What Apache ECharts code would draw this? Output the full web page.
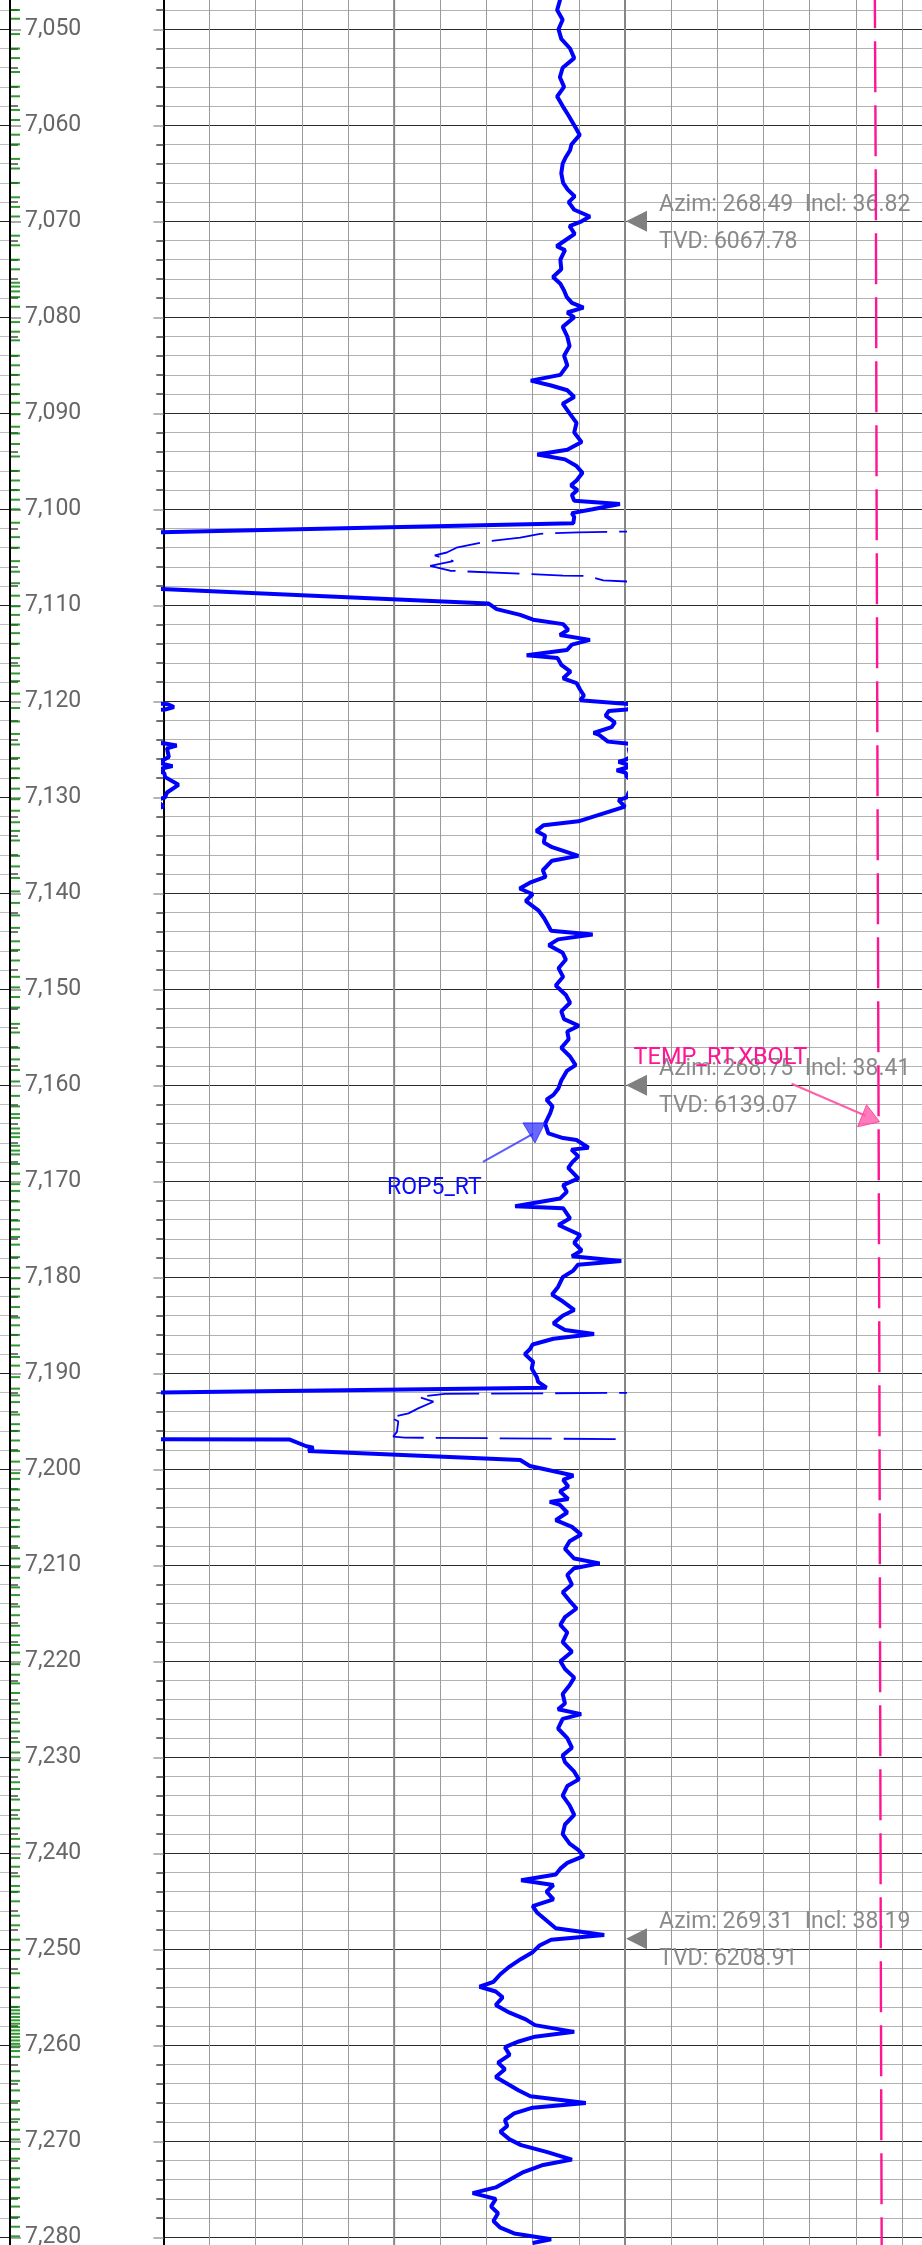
<!DOCTYPE html>
<html><head><meta charset="utf-8">
<script src="https://cdn.jsdelivr.net/npm/echarts@6/dist/echarts.min.js"></script>
<style>html,body{margin:0;padding:0;background:#fff;}#c{width:922px;height:2245px;}</style>
</head><body><div id="c"></div>
<script>
// ---------- data ----------
const depthMin = 7040, depthMax = 7290;

const ropDepth = [7046.0,7047.0,7048.0,7049.0,7050.0,7051.0,7052.0,7053.0,7054.0,7055.0,7056.0,7057.0,7058.0,7059.0,7060.0,7061.0,7062.0,7062.6,7063.3,7064.0,7065.0,7066.0,7066.7,7067.4,7068.0,7068.8,7069.5,7070.0,7070.5,7071.3,7072.0,7072.6,7073.0,7074.0,7075.0,7075.8,7076.5,7077.2,7077.9,7078.5,7079.0,7079.5,7080.0,7081.0,7082.0,7083.0,7084.0,7085.0,7086.0,7086.6,7087.1,7087.6,7088.3,7089.0,7090.0,7091.0,7092.0,7093.0,7093.8,7094.3,7094.8,7095.5,7096.2,7097.0,7097.5,7098.0,7098.5,7099.1,7099.45,7100.0,7100.4,7100.8,7101.45,7102.5,7108.1,7109.8,7110.4,7111.0,7111.5,7111.96,7112.55,7113.1,7113.6,7114.1,7114.66,7115.2,7115.5,7116.2,7116.9,7117.6,7118.1,7118.8,7119.4,7119.9,7120.3,7120.6,7120.85,7121.0,7121.5,7122.2,7122.7,7123.3,7123.5,7124.2,7124.4,7124.6,7124.9,7125.8,7126.1,7126.3,7126.55,7126.75,7126.95,7127.2,7127.45,7127.9,7128.7,7129.5,7130.0,7130.3,7130.98,7132.5,7132.9,7133.5,7134.0,7134.7,7135.2,7136.1,7136.6,7137.6,7138.3,7138.9,7139.5,7140.1,7140.8,7141.8,7142.6,7143.9,7144.3,7144.8,7145.4,7146.2,7146.9,7147.8,7148.7,7149.6,7150.6,7151.4,7152.3,7153.1,7153.8,7154.4,7155.2,7156.1,7157.0,7157.9,7158.5,7159.5,7160.3,7161.0,7161.5,7162.2,7162.9,7164.0,7165.0,7165.5,7165.7,7166.5,7166.7,7167.4,7168.0,7168.6,7169.7,7170.4,7171.1,7171.8,7172.6,7172.8,7173.85,7174.55,7175.6,7176.4,7177.2,7177.8,7178.3,7178.7,7179.3,7180.0,7181.0,7181.8,7182.5,7183.4,7184.0,7184.8,7185.5,7185.9,7186.4,7187.0,7187.5,7188.0,7188.8,7189.5,7190.4,7190.9,7191.5,7192.05,7196.85,7196.9,7197.6,7197.75,7198.1,7199.03,7199.65,7200.65,7201.1,7201.8,7202.3,7203.1,7203.4,7203.7,7204.5,7205.3,7206.0,7206.8,7207.5,7208.3,7209.3,7209.8,7210.3,7211.0,7212.0,7212.8,7213.7,7214.5,7215.4,7216.2,7217.0,7218.0,7219.0,7220.0,7220.8,7221.7,7222.5,7223.4,7224.4,7225.0,7225.5,7226.0,7227.0,7228.0,7229.0,7229.8,7230.5,7231.5,7232.3,7233.0,7234.0,7235.0,7236.0,7237.0,7238.0,7239.0,7239.7,7240.3,7241.0,7241.6,7242.2,7242.8,7243.3,7244.0,7244.8,7245.5,7246.2,7247.0,7247.8,7248.5,7249.0,7249.6,7250.3,7251.0,7251.8,7252.6,7253.4,7253.9,7254.4,7255.0,7255.8,7256.6,7257.3,7257.9,7258.6,7259.1,7259.6,7260.2,7261.0,7261.8,7262.5,7263.3,7264.0,7264.7,7265.3,7266.0,7266.5,7267.1,7267.8,7268.4,7269.0,7269.8,7270.4,7271.1,7271.9,7272.5,7273.2,7274.0,7274.8,7275.4,7276.0,7276.8,7277.5,7278.3,7279.0,7279.6,7280.2,7280.6];
const ropValue = [86.2,85.9,85.3,86.5,85.6,86.2,88.1,89.0,86.5,85.9,86.8,85.3,86.5,87.8,89.0,90.2,88.4,88.1,87.2,86.5,86.2,86.6,87.6,89.1,87.8,89.0,92.4,90.6,88.0,89.1,87.0,85.2,87.0,86.0,86.2,84.4,86.0,86.8,87.4,88.5,91.0,87.5,89.0,86.5,87.5,88.0,86.8,87.5,86.0,79.6,84.0,87.5,89.0,86.5,88.0,89.5,89.0,90.6,87.5,81.0,87.0,89.5,90.8,89.5,88.3,89.7,88.5,89.0,98.9,93.0,88.5,89.0,88.8,-10,-10,70.4,72.2,77.3,80.1,86.6,87.7,85.9,92.4,88.5,87.4,78.7,85.4,86.2,88.2,86.6,89.5,90.3,91.1,90.3,101.0,102.3,100.4,96.5,95.8,97.8,97.1,93.2,94.4,96.3,100.4,102.9,100.8,101.2,100.1,98.6,100.2,102.0,100.1,98.2,100.2,100.4,103.3,100.8,100.4,98.6,100.0,89.9,82.4,80.8,82.7,82.4,84.2,89.9,84.2,82.2,82.8,79.4,77.2,80.0,78.5,81.3,82.5,84.0,93.0,85.5,83.5,86.5,87.2,85.6,86.6,85.0,87.2,88.1,86.2,86.8,90.0,87.5,87.8,86.2,88.1,89.3,87.4,86.2,85.6,84.5,83.0,84.3,83.8,82.7,83.4,86.6,89.5,92.1,88.4,89.9,88.6,87.7,89.9,86.6,87.4,85.9,76.2,86.6,88.1,85.6,90.3,89.0,90.6,88.5,99.2,89.8,88.8,86.5,85.5,84.2,86.5,89.0,86.5,84.5,87.0,93.3,84.5,80.0,79.4,78.3,80.1,79.8,80.9,81.2,83.0,-10,-10,27.4,31.0,32.5,31.4,77.3,79.4,88.8,86.6,87.7,85.9,87.7,83.7,85.9,87.5,85.0,88.5,90.5,88.0,87.0,89.0,94.5,89.0,87.5,88.5,86.5,88.0,89.5,87.0,86.0,87.5,86.5,88.5,86.0,87.0,89.0,88.0,86.5,87.0,85.5,90.5,86.5,85.5,87.5,88.5,86.5,87.0,89.0,90.0,87.5,86.5,88.0,89.0,87.0,86.5,88.0,90.0,91.0,87.5,86.0,85.0,77.5,84.5,83.0,84.5,80.0,81.0,83.0,85.0,95.5,84.0,81.5,80.0,77.5,75.0,73.0,71.5,68.5,72.0,73.5,72.0,75.0,78.5,80.5,89.0,80.5,77.0,74.0,75.0,72.5,74.0,72.0,74.5,77.0,79.5,91.5,80.0,76.0,74.0,74.5,73.0,75.0,77.5,83.0,88.5,82.0,78.0,75.0,72.0,67.0,72.0,71.0,72.5,71.5,73.0,76.0,84.0,80.0];

// backup (thin dashed) curve where ROP5_RT is off-scale
const backupDepthA = [7102.25,7102.4,7102.55,7102.95,7103.35,7104.0,7104.5,7104.8,7105.4,7105.9,7106.4,7106.9,7106.95,7107.4,7107.75];
const backupValueA = [110,89.9,81.6,77.3,70.0,63.5,61.4,58.8,62.8,57.8,62.1,86.6,91.7,95.3,110];
const backupDepthB = [7192.0,7192.15,7192.44,7192.96,7193.65,7194.17,7194.6,7195.0,7196.1,7196.6,7196.7,7196.9];
const backupValueB = [110,61.0,55.2,58.5,55.2,53.1,49.1,50.9,50.6,49.8,52.3,110];

const tempDepth = [7040,7070,7100,7130,7160,7190,7220,7250,7290];
const tempValue = [108.1,108.7,109.0,109.4,109.8,110.2,110.5,110.8,111.3];

const greenTickDepth = [7047.99,7048.9,7050.5,7052.0,7053.0,7054.45,7055.98,7056.98,7058.4,7059.45,7060.98,7061.98,7063.5,7064.5,7066.0,7067.5,7068.5,7069.5,7071.5,7072.5,7074.0,7075.0,7076.4,7076.8,7077.3,7077.9,7078.9,7080.5,7081.5,7082.4,7084.0,7085.0,7086.0,7087.0,7088.0,7088.9,7090.1,7091.4,7092.1,7093.2,7094.5,7096.0,7097.0,7098.0,7099.0,7100.0,7101.4,7102.9,7104.0,7105.4,7106.5,7107.7,7109.0,7110.1,7111.0,7112.0,7112.9,7114.0,7115.5,7116.3,7117.1,7117.9,7119.2,7120.7,7122.1,7123.4,7124.5,7125.9,7127.0,7128.0,7129.1,7130.2,7131.4,7132.6,7133.5,7134.5,7136.1,7137.2,7138.4,7139.8,7141.0,7142.3,7143.6,7145.0,7145.9,7147.0,7148.7,7149.8,7150.8,7151.9,7153.6,7154.5,7156.1,7157.3,7158.4,7159.6,7161.1,7162.2,7163.0,7163.4,7164.5,7165.0,7165.4,7166.3,7166.8,7167.2,7168.2,7169.2,7170.3,7171.0,7172.1,7173.0,7174.1,7175.0,7175.8,7176.6,7177.9,7179.0,7180.1,7181.2,7182.0,7183.1,7184.2,7185.0,7186.0,7187.1,7188.3,7189.2,7190.4,7191.6,7192.3,7193.0,7194.3,7195.3,7196.0,7197.0,7198.1,7199.2,7200.4,7201.0,7202.1,7203.2,7204.2,7205.3,7206.0,7207.0,7208.2,7209.3,7210.2,7211.3,7212.3,7213.1,7214.3,7215.2,7216.3,7217.3,7218.3,7219.1,7220.3,7221.4,7222.3,7223.3,7224.4,7225.3,7226.4,7227.3,7228.4,7229.5,7230.3,7231.3,7232.6,7233.3,7234.4,7235.5,7236.4,7237.4,7238.5,7239.3,7240.5,7241.4,7242.4,7243.4,7244.0,7245.0,7246.5,7247.5,7249.0,7250.1,7251.0,7252.5,7254.0,7255.0,7256.0,7256.35,7256.7,7257.05,7257.4,7257.75,7258.1,7258.45,7258.8,7259.15,7259.5,7259.85,7260.2,7260.6,7261.2,7262.7,7263.7,7264.7,7265.8,7266.7,7267.7,7268.8,7269.8,7270.8,7271.8,7272.8,7273.9,7274.8,7275.9,7276.8,7277.9,7278.9,7279.9];

const surveyDepth = [7070.0, 7160.0, 7248.9];
const surveyAzim = ['268.49', '268.75', '269.31'];
const surveyIncl = ['36.82', '38.41', '38.19'];
const surveyTVD = ['6067.78', '6139.07', '6208.91'];

const ropLabel = 'ROP5_RT', ropLabelDepth = 7166.0, ropLabelValue = 80.5;
const tempLabel = 'TEMP_RT.XBOLT', tempLabelDepth = 7163.8;

// ---------- chart ----------
const chart = echarts.init(document.getElementById('c'));
const FONT = 'Roboto, "Noto Sans", sans-serif';
const T = -66.7, B = -88.3;

function yAx(gridIndex, extra) {
  return Object.assign({
    type: 'value', gridIndex, min: depthMin, max: depthMax, interval: 10, inverse: true,
    axisLine: {show: false, onZero: false}, axisTick: {show: false}, axisLabel: {show: false},
    splitLine: {show: true, lineStyle: {color: '#2a2a2a', width: 1}},
    minorTick: {show: false, splitNumber: 5},
    minorSplitLine: {show: true, lineStyle: {color: '#b2b2b2', width: 1}}
  }, extra);
}
function xAx(gridIndex, min, max, interval, showSplit) {
  return {type: 'value', gridIndex, min, max, interval,
    axisLine: {show: false, onZero: false}, axisTick: {show: false}, axisLabel: {show: false},
    splitLine: {show: showSplit, lineStyle: {color: '#9a9a9a', width: 1}}};
}
const pairs = (ds, vs, f) => ds.map((d, i) => [f ? f(vs[i]) : vs[i], d]);

const option = {
  animation: false,
  backgroundColor: '#fff',
  grid: [
    {left: -50, width: 60, top: T, bottom: B, outerBoundsMode: 'none'},
    {left: 163.3, width: 461.7, top: T, bottom: B, outerBoundsMode: 'none'},
    {left: 625, width: 461.7, top: T, bottom: B, outerBoundsMode: 'none'},
    {left: 11, width: 9, top: T, bottom: B, outerBoundsMode: 'none'}
  ],
  xAxis: [
    xAx(0, 0, 1, 1, false),
    xAx(1, 0, 100, 10, true),
    xAx(2, 0, 200, 20, true),
    xAx(3, 0, 1, 1, false)
  ],
  yAxis: [
    yAx(0, {position: 'right', z: 3,
      axisLine: {show: true, onZero: false, lineStyle: {color: '#000', width: 2}},
      axisTick: {show: true, length: 11, lineStyle: {color: '#aaa', width: 2}},
      minorTick: {show: true, splitNumber: 5, length: 8, lineStyle: {color: '#777', width: 2}},
      axisLabel: {show: true, margin: 15, color: '#666', fontSize: 23, fontFamily: FONT,
        formatter: v => String(v).replace(/\B(?=(\d{3})+(?!\d))/g, ',')},
      splitLine: {show: true, lineStyle: {color: '#222', width: 1}},
      minorSplitLine: {show: true, lineStyle: {color: '#bdbdbd', width: 1}}}),
    yAx(1, {position: 'left',
      axisLine: {show: true, onZero: false, lineStyle: {color: '#000', width: 2}},
      axisTick: {show: true, length: 10, lineStyle: {color: '#b5b5b5', width: 2}},
      minorTick: {show: true, splitNumber: 5, length: 7, lineStyle: {color: '#707070', width: 2}}}),
    yAx(2, {}),
    yAx(3, {show: false, splitLine: {show: false}, minorSplitLine: {show: false}})
  ],
  series: [
    {type: 'line', name: 'ROP5_RT', xAxisIndex: 1, yAxisIndex: 1, data: pairs(ropDepth, ropValue),
      symbol: 'none', showSymbol: false, silent: true, clip: true, z: 5,
      lineStyle: {color: '#0000ff', width: 4}},
    {type: 'line', name: 'ROP5_RT wrap', xAxisIndex: 1, yAxisIndex: 1, data: pairs(ropDepth, ropValue, v => v - 100),
      symbol: 'none', showSymbol: false, silent: true, clip: true, z: 5,
      lineStyle: {color: '#0000ff', width: 4}},
    {type: 'line', name: 'ROP5_RT backup A', xAxisIndex: 1, yAxisIndex: 1, data: pairs(backupDepthA, backupValueA),
      symbol: 'none', showSymbol: false, silent: true, clip: true, z: 4,
      lineStyle: {color: '#0000ff', width: 1.8, type: [52, 12]}},
    {type: 'line', name: 'ROP5_RT backup B', xAxisIndex: 1, yAxisIndex: 1, data: pairs(backupDepthB, backupValueB),
      symbol: 'none', showSymbol: false, silent: true, clip: true, z: 4,
      lineStyle: {color: '#0000ff', width: 1.8, type: [52, 12]}},
    {type: 'line', name: 'TEMP_RT.XBOLT', xAxisIndex: 2, yAxisIndex: 2, data: pairs(tempDepth, tempValue),
      symbol: 'none', showSymbol: false, silent: true, clip: true, z: 4,
      lineStyle: {color: '#ff1493', width: 2.4, type: [51, 13], dashOffset: 20}},
    {type: 'scatter', name: 'marks', xAxisIndex: 3, yAxisIndex: 3, data: greenTickDepth.map(d => [0.5, d]),
      symbol: 'rect', symbolSize: [9, 2], silent: true, z: 6, itemStyle: {color: '#008000'}}
  ]
};
chart.setOption(option);

// ---------- annotations ----------
const P = (gi, v, d) => chart.convertToPixel({xAxisIndex: gi, yAxisIndex: gi}, [v, d]);
function interpTemp(d) {
  for (let i = 1; i < tempDepth.length; i++) {
    if (d <= tempDepth[i]) {
      const t = (d - tempDepth[i - 1]) / (tempDepth[i] - tempDepth[i - 1]);
      return tempValue[i - 1] + t * (tempValue[i] - tempValue[i - 1]);
    }
  }
  return tempValue[tempValue.length - 1];
}
const g = [];
// heavier track divisions
[50, 100].forEach(v => {
  const a = P(1, v, depthMin), b = P(1, v, depthMax);
  g.push({type: 'line', z: 0, silent: true, shape: {x1: a[0], y1: a[1], x2: b[0], y2: b[1]},
    style: {stroke: '#868686', lineWidth: 2}});
});
// depth-track boundary line (drawn explicitly so it stays visible above the tick marks)
(function () {
  const a = P(0, 1, depthMin), b = P(0, 1, depthMax);
  g.push({type: 'line', z: 30, silent: true, shape: {x1: a[0], y1: a[1], x2: b[0], y2: b[1]},
    style: {stroke: '#000', lineWidth: 2}});
})();
// survey markers
surveyDepth.forEach((d, i) => {
  const p = P(2, 0, d);
  const x0 = p[0], y = p[1];
  g.push({type: 'polygon', z: 1, silent: true, shape: {points: [[x0 + 1, y], [x0 + 22, y - 10.5], [x0 + 22, y + 10.5]]},
    style: {fill: '#808080'}});
  g.push({type: 'text', z: 1, silent: true, x: x0 + 34, y: y - 16,
    style: {text: 'Azim: ' + surveyAzim[i] + '  Incl: ' + surveyIncl[i], fill: '#8a8a8a', font: '23px ' + FONT, align: 'left', verticalAlign: 'middle'}});
  g.push({type: 'text', z: 1, silent: true, x: x0 + 34, y: y + 21,
    style: {text: 'TVD: ' + surveyTVD[i], fill: '#8a8a8a', font: '23px ' + FONT, align: 'left', verticalAlign: 'middle'}});
});
// ROP5_RT callout
(function () {
  const a = P(1, ropLabelValue, ropLabelDepth);
  const x = a[0], y = a[1];
  g.push({type: 'line', z: 20, silent: true, shape: {x1: x - 52, y1: y + 19, x2: x - 2, y2: y - 9},
    style: {stroke: 'rgba(40,40,255,0.75)', lineWidth: 2.2}});
  g.push({type: 'polygon', z: 20, silent: true, shape: {points: [[x - 12, y - 20], [x + 10, y - 20], [x, y]]},
    style: {fill: 'rgba(40,40,255,0.7)', stroke: 'rgba(40,40,255,0.8)', lineWidth: 1}});
  g.push({type: 'text', z: 20, silent: true, x: x - 148, y: y + 45,
    style: {text: ropLabel, fill: '#0a0aff', font: '23px ' + FONT, align: 'left', verticalAlign: 'middle'}});
})();
// TEMP_RT.XBOLT callout
(function () {
  const a = P(2, interpTemp(tempLabelDepth), tempLabelDepth);
  const x = a[0] + 1, y = a[1];
  g.push({type: 'line', z: 20, silent: true, shape: {x1: x - 88, y1: y - 38, x2: x - 14, y2: y - 6},
    style: {stroke: 'rgba(255,80,160,0.9)', lineWidth: 2.2}});
  g.push({type: 'polygon', z: 20, silent: true, shape: {points: [[x - 13, y - 17], [x - 22, y + 5], [x, y]]},
    style: {fill: 'rgba(255,90,170,0.8)', stroke: 'rgba(255,60,150,0.85)', lineWidth: 1}});
  g.push({type: 'text', z: 20, silent: true, x: x - 246, y: y - 64,
    style: {text: tempLabel, fill: '#ff1493', font: '23.5px ' + FONT, align: 'left', verticalAlign: 'middle'}});
})();
chart.setOption({graphic: {elements: g}});
</script>
</body></html>
